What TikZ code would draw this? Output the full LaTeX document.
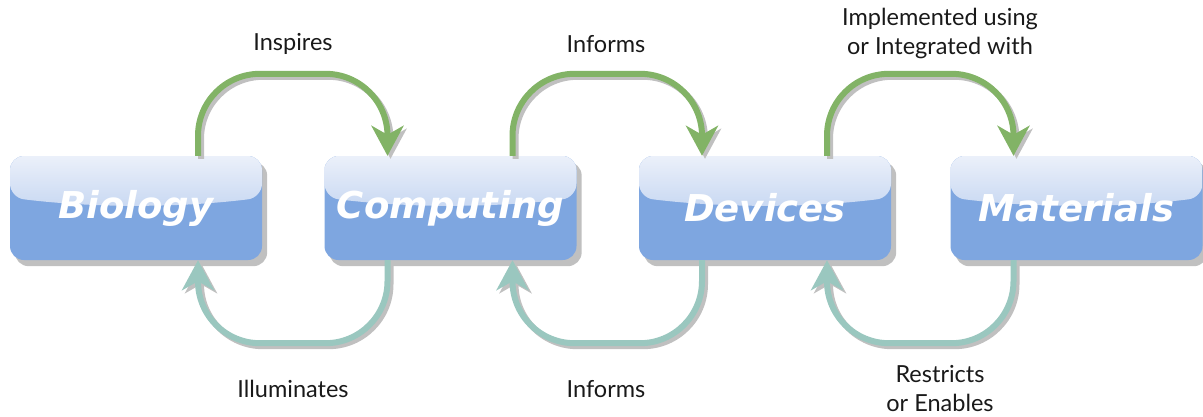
\documentclass[tikz,border=0pt]{standalone}
\usepackage{fontspec}
\setmainfont{Lato}
\newfontfamily\stagefont{DejaVu Sans}
\usetikzlibrary{arrows.meta,backgrounds,calc}
\definecolor{stageblue}{HTML}{7EA6E0}
\definecolor{glosstop}{HTML}{EBF0FA}
\definecolor{glossbot}{HTML}{A5C0EA}
\definecolor{dropgray}{HTML}{C0C0C0}
\definecolor{leafgreen}{HTML}{82B366}
\definecolor{seateal}{HTML}{9AC7BF}
\tikzset{
  stage/.style={rectangle,rounded corners=14pt,minimum width=252pt,minimum height=104pt,
    inner sep=0pt,fill=stageblue,text=white,
    font=\stagefont\bfseries\itshape\fontsize{37}{40}\selectfont,
    path picture={
      \shade[top color=glosstop,bottom color=glossbot]
        let \p1=(path picture bounding box.north west),\p2=(path picture bounding box.south east) in
        (\x1,\y1) -- (\x1,{\y1+0.4*(\y2-\y1)})
        .. controls ({\x1+(\x2-\x1)/3},{\y1+0.5*(\y2-\y1)}) and ({\x2-(\x2-\x1)/3},{\y1+0.5*(\y2-\y1)}) ..
        (\x2,{\y1+0.4*(\y2-\y1)}) -- (\x2,\y1) -- cycle;
    }},
  flow/.style={line width=6pt,rounded corners=62pt,-{Stealth[length=30pt,width=32pt,inset=9pt]}},
  lbl/.style={font=\fontsize{23.5}{29}\selectfont,text=black!90,align=center,inner sep=0pt}
}

\begin{document}
\begin{tikzpicture}[x=1pt,y=-1pt]
  \useasboundingbox (0,0) rectangle (1203,416);
  % stages
  \node[stage] (bio)  at (136,208)   {Biology};
  \node[stage] (comp) at (450.5,208) {Computing};
  \node[stage] (dev)  at (765,208)   {Devices};
  \node[stage] (mat)  at (1076.5,208) {Materials};
  \begin{scope}[on background layer]
    \foreach \n in {bio,comp,dev,mat}{\fill[dropgray,rounded corners=14pt] ([shift={(5pt,-6pt)}]\n.north west) rectangle ([shift={(5pt,-6pt)}]\n.south east);}
  \end{scope}
  % forward and backward links
  \foreach \src/\dst in {bio/comp,comp/dev,dev/mat}{
    \draw[flow,dropgray,transform canvas={shift={(3,3)}}] ([xshift=62pt]\src.north) -- ++(0,-82) -| ([xshift=-63pt]\dst.north);
    \draw[flow,leafgreen] ([xshift=62pt]\src.north) -- ++(0,-82) -| ([xshift=-63pt]\dst.north);
    \draw[flow,dropgray,transform canvas={shift={(3,3)}}] ([xshift=-63pt]\dst.south) -- ++(0,83) -| ([xshift=62pt]\src.south);
    \draw[flow,seateal] ([xshift=-63pt]\dst.south) -- ++(0,83) -| ([xshift=62pt]\src.south);
  }
  % labels
  \node[lbl] (inspires) at (293,44) {Inspires};
  \node[lbl] (informsup) at (606,44) {Informs};
  \node[lbl] (implemented) at (940,33) {Implemented using\\or Integrated with};
  \node[lbl] (illuminates) at (293,389) {Illuminates};
  \node[lbl] (informsdown) at (606,389) {Informs};
  \node[lbl] (restricts) at (940,389) {Restricts\\or Enables};
\end{tikzpicture}
\end{document}
